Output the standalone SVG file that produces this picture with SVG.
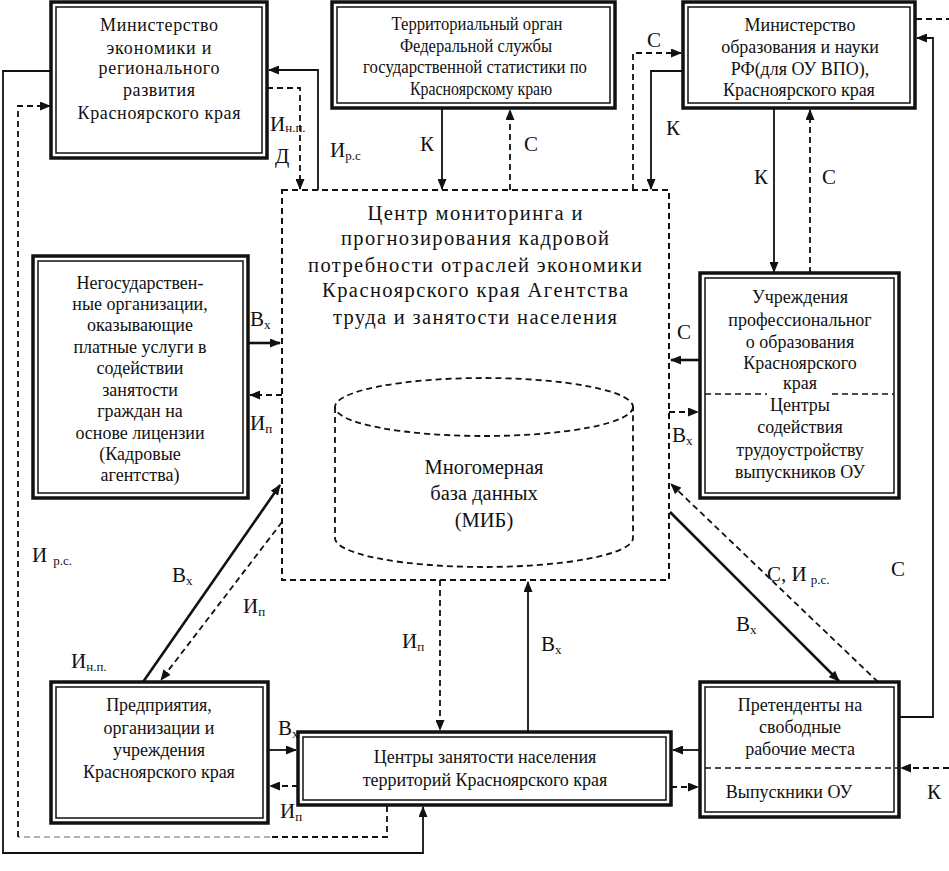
<svg xmlns="http://www.w3.org/2000/svg" width="949" height="871" viewBox="0 0 949 871">
<style>
text{font-family:"Liberation Serif","Times New Roman",serif;fill:#111;}
.bt{font-size:18px;text-anchor:middle;}
.ct{font-size:20.5px;text-anchor:middle;}
.lb{font-size:21px;}
.sb{font-size:13px;}
.ob{fill:#fff;stroke:#111;stroke-width:3.5;}
.ib{fill:none;stroke:#111;stroke-width:1.5;}
.s{fill:none;stroke:#111;stroke-width:1.8;}
.st{fill:none;stroke:#111;stroke-width:2.6;}
.d{fill:none;stroke:#111;stroke-width:1.8;stroke-dasharray:6 4;}
.dg{fill:none;stroke:#999;stroke-width:1.5;stroke-dasharray:6 4;}
</style>
<defs>
<marker id="ah" markerWidth="11" markerHeight="9" refX="10" refY="4.5" orient="auto" markerUnits="userSpaceOnUse">
<path d="M0,0 L11,4.5 L0,9 z" fill="#111"/>
</marker>
</defs>
<rect x="0" y="0" width="949" height="871" fill="#fff"/>

<g id="connectors">
<path class="s" d="M52,71 H3 V853 H423 V807" marker-end="url(#ah)"/>
<path class="d" d="M387,806 V837 H270"/>
<path class="dg" d="M270,837 H18"/>
<path class="d" d="M18,837 V106 H50" marker-end="url(#ah)"/>
<path class="s" d="M318,190 V70 H269" marker-end="url(#ah)"/>
<path class="d" d="M267,88 H300 V189" marker-end="url(#ah)"/>
<path class="s" d="M442,108 V189" marker-end="url(#ah)"/>
<path class="d" d="M510,190 V110" marker-end="url(#ah)"/>
<path class="d" d="M633,190 V53 H681" marker-end="url(#ah)"/>
<path class="s" d="M683,71 H651 V189" marker-end="url(#ah)"/>
<path class="s" d="M774,108 V272" marker-end="url(#ah)"/>
<path class="d" d="M810,273 V110" marker-end="url(#ah)"/>
<path class="d" d="M916,19 H949"/>
<path class="s" d="M899,717 H933 V38 H917" marker-end="url(#ah)"/>
<path class="st" d="M700,360 H671" marker-end="url(#ah)"/>
<path class="d" d="M669,412 H698" marker-end="url(#ah)"/>
<path class="st" d="M670,512 L839,681" marker-end="url(#ah)"/>
<path class="d" d="M878,682 L671,484" marker-end="url(#ah)"/>
<path class="s" d="M700,750 H673" marker-end="url(#ah)"/>
<path class="d" d="M671,787 H698" marker-end="url(#ah)"/>
<path class="d" d="M440,580 V730" marker-end="url(#ah)"/>
<path class="s" d="M528,732 V582" marker-end="url(#ah)"/>
<path class="s" d="M268,750 H296" marker-end="url(#ah)"/>
<path class="d" d="M298,786 H270" marker-end="url(#ah)"/>
<path class="st" d="M143,682 L280,485" marker-end="url(#ah)"/>
<path class="d" d="M282,522 L161,680" marker-end="url(#ah)"/>
<path class="st" d="M248,343 H280" marker-end="url(#ah)"/>
<path class="d" d="M282,395 H250" marker-end="url(#ah)"/>
<path class="d" d="M949,768 H901" marker-end="url(#ah)"/>
</g>

<g id="center">
<rect x="282" y="190" width="387" height="390" fill="none" stroke="#111" stroke-width="2" stroke-dasharray="6 4"/>
<text class="ct" x="475" y="220" textLength="215" lengthAdjust="spacing">Центр мониторинга и</text>
<text class="ct" x="475" y="245" textLength="268" lengthAdjust="spacing">прогнозирования кадровой</text>
<text class="ct" x="475" y="272" textLength="334" lengthAdjust="spacing">потребности отраслей экономики</text>
<text class="ct" x="475" y="297" textLength="306" lengthAdjust="spacing">Красноярского края Агентства</text>
<text class="ct" x="475" y="324" textLength="284" lengthAdjust="spacing">труда и занятости населения</text>
</g>

<g id="db">
<ellipse cx="484" cy="407" rx="149" ry="29" fill="none" stroke="#111" stroke-width="1.8" stroke-dasharray="6 4"/>
<path d="M335,407 V538 A149,29 0 0 0 633,538 V407" fill="none" stroke="#111" stroke-width="1.8" stroke-dasharray="6 4"/>
<text class="ct" x="484" y="474">Многомерная</text>
<text class="ct" x="484" y="500">база данных</text>
<text class="ct" x="484" y="527">(МИБ)</text>
</g>

<g id="min-econ">
<rect class="ob" x="51" y="2" width="216" height="156"/>
<rect class="ib" x="56" y="7" width="206" height="146"/>
<text class="bt" x="159" y="31" textLength="118" lengthAdjust="spacing">Министерство</text>
<text class="bt" x="159" y="54" textLength="105" lengthAdjust="spacing">экономики и</text>
<text class="bt" x="159" y="74" textLength="121" lengthAdjust="spacing">регионального</text>
<text class="bt" x="159" y="96" textLength="72" lengthAdjust="spacing">развития</text>
<text class="bt" x="159" y="119" textLength="163" lengthAdjust="spacing">Красноярского края</text>
</g>

<g id="stat">
<rect class="ob" x="332" y="2" width="283" height="106"/>
<rect class="ib" x="337" y="7" width="273" height="96"/>
<text class="bt" x="477" y="30" font-size="16" textLength="171" lengthAdjust="spacingAndGlyphs">Территориальный орган</text>
<text class="bt" x="476" y="52" font-size="16" textLength="152" lengthAdjust="spacingAndGlyphs">Федеральной службы</text>
<text class="bt" x="475" y="73" font-size="16" textLength="224" lengthAdjust="spacingAndGlyphs">государственной статистики по</text>
<text class="bt" x="481" y="95" font-size="16" textLength="142" lengthAdjust="spacingAndGlyphs">Красноярскому краю</text>
</g>

<g id="min-edu">
<rect class="ob" x="683" y="2" width="232" height="106"/>
<rect class="ib" x="688" y="7" width="222" height="96"/>
<text class="bt" x="800" y="31">Министерство</text>
<text class="bt" x="800" y="53">образования и науки</text>
<text class="bt" x="800" y="75">РФ(для ОУ ВПО),</text>
<text class="bt" x="799" y="96">Красноярского края</text>
</g>

<g id="agencies">
<rect class="ob" x="33" y="256" width="215" height="242"/>
<rect class="ib" x="38" y="261" width="205" height="232"/>
<text class="bt" x="140" y="289">Негосударствен-</text>
<text class="bt" x="140" y="310">ные организации,</text>
<text class="bt" x="140" y="331">оказывающие</text>
<text class="bt" x="140" y="353">платные услуги в</text>
<text class="bt" x="140" y="374">содействии</text>
<text class="bt" x="140" y="396">занятости</text>
<text class="bt" x="140" y="417">граждан на</text>
<text class="bt" x="140" y="439">основе лицензии</text>
<text class="bt" x="140" y="460">(Кадровые</text>
<text class="bt" x="140" y="481">агентства)</text>
</g>

<g id="prof-edu">
<rect class="ob" x="700" y="273" width="199" height="225"/>
<rect class="ib" x="705" y="278" width="189" height="215"/>
<path d="M705,394 H767 M832,394 H894" fill="none" stroke="#111" stroke-width="1.5" stroke-dasharray="6 4"/>
<text class="bt" x="800" y="303">Учреждения</text>
<text class="bt" x="800" y="326">профессиональног</text>
<text class="bt" x="800" y="348">о образования</text>
<text class="bt" x="800" y="369">Красноярского</text>
<text class="bt" x="800" y="389">края</text>
<text class="bt" x="800" y="411">Центры</text>
<text class="bt" x="800" y="433">содействия</text>
<text class="bt" x="800" y="456">трудоустройству</text>
<text class="bt" x="800" y="478">выпускников ОУ</text>
</g>

<g id="enterprises">
<rect class="ob" x="51" y="682" width="217" height="141"/>
<rect class="ib" x="56" y="687" width="207" height="131"/>
<text class="bt" x="159" y="711">Предприятия,</text>
<text class="bt" x="159" y="734">организации и</text>
<text class="bt" x="159" y="756">учреждения</text>
<text class="bt" x="159" y="778">Красноярского края</text>
</g>

<g id="employment">
<rect class="ob" x="298" y="732" width="373" height="73"/>
<rect class="ib" x="303" y="737" width="363" height="63"/>
<text class="bt" x="485" y="763">Центры занятости населения</text>
<text class="bt" x="485" y="786">территорий Красноярского края</text>
</g>

<g id="applicants">
<rect class="ob" x="700" y="682" width="199" height="135"/>
<rect class="ib" x="705" y="687" width="189" height="125"/>
<path d="M705,768 H899" fill="none" stroke="#111" stroke-width="1.5" stroke-dasharray="6 4"/>
<text class="bt" x="800" y="711">Претенденты  на</text>
<text class="bt" x="800" y="733">свободные</text>
<text class="bt" x="800" y="755">рабочие места</text>
<text class="bt" x="789" y="798">Выпускники ОУ</text>
</g>

<g id="labels">
<text class="lb" x="270" y="131">И<tspan class="sb" dy="1">н.п.</tspan></text>
<text class="lb" x="275" y="163">Д</text>
<text class="lb" x="330" y="157" font-size="24">И<tspan class="sb" font-size="15" dy="3">р.с</tspan></text>
<text class="lb" x="420" y="151">К</text>
<text class="lb" x="524" y="151">С</text>
<text class="lb" x="647" y="47">С</text>
<text class="lb" x="666" y="135">К</text>
<text class="lb" x="754" y="184">К</text>
<text class="lb" x="822" y="184">С</text>
<text class="lb" x="677" y="339">С</text>
<text class="lb" x="672" y="442">В<tspan class="sb" dy="3">х</tspan></text>
<text class="lb" x="250" y="326">В<tspan class="sb" dy="3">х</tspan></text>
<text class="lb" x="250" y="430">И<tspan class="sb" dy="3">п</tspan></text>
<text class="lb" x="32" y="562" font-size="23">И<tspan class="sb" dx="6" dy="3">р.с.</tspan></text>
<text class="lb" x="172" y="582">В<tspan class="sb" dy="3">х</tspan></text>
<text class="lb" x="243" y="613">И<tspan class="sb" dy="3">п</tspan></text>
<text class="lb" x="71" y="668" font-size="23">И<tspan class="sb" dy="3">н.п.</tspan></text>
<text class="lb" x="278" y="735">В<tspan class="sb" dy="3">х</tspan></text>
<text class="lb" x="280" y="818">И<tspan class="sb" dy="3">п</tspan></text>
<text class="lb" x="402" y="648">И<tspan class="sb" dy="3">п</tspan></text>
<text class="lb" x="541" y="651">В<tspan class="sb" dy="3">х</tspan></text>
<text class="lb" x="767" y="581">С, И<tspan class="sb" dx="4" dy="3">р.с.</tspan></text>
<text class="lb" x="736" y="631">В<tspan class="sb" dy="3">х</tspan></text>
<text class="lb" x="891" y="576">С</text>
<text class="lb" x="927" y="799">К</text>
</g>
</svg>
